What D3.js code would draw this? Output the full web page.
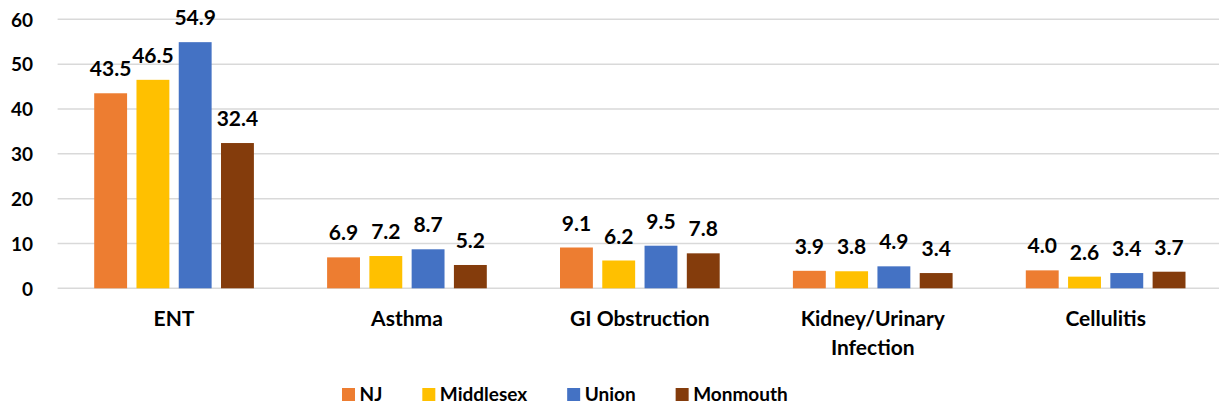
<!DOCTYPE html>
<html>
<head>
<meta charset="utf-8">
<script src="https://cdn.jsdelivr.net/npm/d3@7"></script>
<style>
  html, body { margin: 0; padding: 0; background: #fff; }
  svg { display: block; font-family: Lato, "Open Sans", sans-serif; font-weight: 700; }
</style>
</head>
<body>
<svg id="chart" width="1219" height="407"></svg>
<script>
// Rates by diagnosis group and area
const categories = ["ENT", "Asthma", "GI Obstruction", "Kidney/Urinary Infection", "Cellulitis"];
const categoryLines = [["ENT"], ["Asthma"], ["GI Obstruction"], ["Kidney/Urinary", "Infection"], ["Cellulitis"]];
const seriesNames = ["NJ", "Middlesex", "Union", "Monmouth"];
const seriesColors = ["#ED7D31", "#FFC000", "#4472C4", "#843C0C"];
const njValues        = [43.5, 6.9, 9.1, 3.9, 4.0];
const middlesexValues = [46.5, 7.2, 6.2, 3.8, 2.6];
const unionValues     = [54.9, 8.7, 9.5, 4.9, 3.4];
const monmouthValues  = [32.4, 5.2, 7.8, 3.4, 3.7];
const yTicks = [0, 10, 20, 30, 40, 50, 60];

const seriesValues = [njValues, middlesexValues, unionValues, monmouthValues];

const svg = d3.select("#chart");
const W = 1219;
const plot = { left: 57.6, right: 1222.1, top: 19.3, bottom: 288.3 };

const x0 = d3.scaleBand().domain(categories).range([plot.left, plot.right]).padding(0);
const groupW = 159.7;
const x1 = d3.scaleBand().domain(seriesNames)
  .range([(x0.bandwidth() - groupW) / 2, (x0.bandwidth() + groupW) / 2])
  .paddingInner(0.222).paddingOuter(0);
const y = d3.scaleLinear().domain([0, 60]).range([plot.bottom, plot.top]);

// gridlines
svg.append("g").selectAll("line").data(yTicks).join("line")
  .attr("x1", plot.left).attr("x2", W)
  .attr("y1", d => y(d)).attr("y2", d => y(d))
  .attr("stroke", "#D9D9D9").attr("stroke-width", 1.5);

// y axis labels
const yAxis = d3.axisLeft(y).tickValues(yTicks).tickSize(0).tickPadding(0);
const gy = svg.append("g").attr("transform", `translate(33,0)`).call(yAxis);
gy.select(".domain").remove();
gy.selectAll("text").attr("font-size", 19).attr("font-family", "Lato, sans-serif")
  .attr("font-weight", 700).attr("fill", "#000").attr("dy", "0.36em");

// bars
const groups = svg.append("g").selectAll("g").data(categories).join("g")
  .attr("transform", d => `translate(${x0(d)},0)`);

groups.each(function (cat, ci) {
  const g = d3.select(this);
  const rows = seriesNames.map((s, si) => ({ s, si, v: seriesValues[si][ci] }));
  g.selectAll("rect").data(rows).join("rect")
    .attr("x", d => x1(d.s)).attr("width", x1.bandwidth())
    .attr("y", d => y(d.v)).attr("height", d => y(0) - y(d.v))
    .attr("fill", d => seriesColors[d.si]);
  g.selectAll("text.val").data(rows).join("text").attr("class", "val")
    .attr("x", d => x1(d.s) + x1.bandwidth() / 2)
    .attr("y", d => y(d.v) - 17)
    .attr("text-anchor", "middle").attr("font-size", 21).attr("fill", "#000")
    .text(d => d.v.toFixed(1));
});

// category labels
const catG = svg.append("g");
categories.forEach((c, i) => {
  const t = catG.append("text")
    .attr("x", x0(c) + x0.bandwidth() / 2).attr("y", 326)
    .attr("text-anchor", "middle").attr("font-size", 21).attr("fill", "#000");
  categoryLines[i].forEach((line, li) => {
    t.append("tspan").attr("x", x0(c) + x0.bandwidth() / 2).attr("dy", li === 0 ? 0 : 29).text(line);
  });
});

// legend
const legend = svg.append("g");
let lx = 342;
seriesNames.forEach((s, i) => {
  legend.append("rect").attr("x", lx).attr("y", 388).attr("width", 13).attr("height", 13)
    .attr("fill", seriesColors[i]);
  const t = legend.append("text").attr("x", lx + 17.5).attr("y", 401)
    .attr("font-size", 19).attr("fill", "#000").text(s);
  lx += 17.5 + t.node().getComputedTextLength() + 40;
});
</script>
</body>
</html>
